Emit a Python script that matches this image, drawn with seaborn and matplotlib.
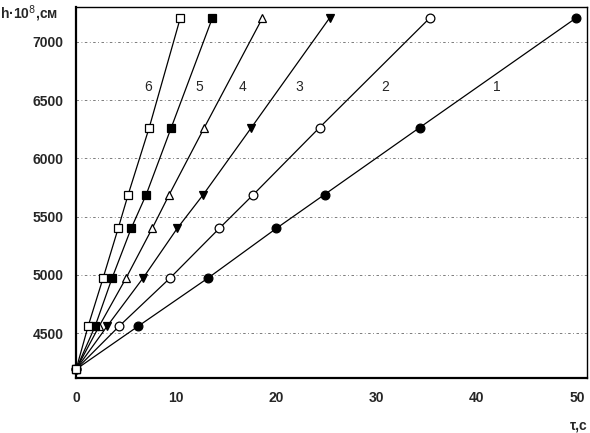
import pandas as pd
import matplotlib.pyplot as plt
import seaborn as sns

# уровни h (x10^8 см), общие для всех кривых
h = [4190, 4560, 4975, 5400, 5690, 6265, 7205]

# время tau, с для кривых 1..6
t1 = [0, 6.2, 13.2, 20.0, 24.8, 34.3, 49.9]
t2 = [0, 4.3, 9.4, 14.3, 17.7, 24.3, 35.3]
t3 = [0, 3.1, 6.7, 10.1, 12.7, 17.5, 25.3]
t4 = [0, 2.3, 5.0, 7.6, 9.3, 12.8, 18.6]
t5 = [0, 1.9, 3.6, 5.5, 7.0, 9.5, 13.6]
t6 = [0, 1.2, 2.7, 4.2, 5.2, 7.3, 10.4]

curve_names = ['1', '2', '3', '4', '5', '6']
label_x = [42.0, 30.9, 22.3, 16.6, 12.3, 7.2]
label_y = 6610

sns.set_style('white')
plt.rcParams['font.family'] = ['Liberation Sans', 'DejaVu Sans']

fig = plt.figure(figsize=(5.9, 4.33), dpi=100)
ax = fig.add_axes([0.129, 0.127, 0.866, 0.857])

# маркеры: (вид, заливка)
styles = [('o', 'black'), ('o', 'white'), ('v', 'black'),
          ('^', 'white'), ('s', 'black'), ('s', 'white')]

for t, name, (m, fc) in zip([t1, t2, t3, t4, t5, t6], curve_names, styles):
    df = pd.DataFrame({'tau': t, 'h': h})
    sns.lineplot(data=df, x='tau', y='h', ax=ax, color='black', lw=0.9,
                 marker=m, markersize=6.3, markerfacecolor=fc,
                 markeredgecolor='black', markeredgewidth=0.9,
                 clip_on=False, zorder=3)

for name, lx in zip(curve_names, label_x):
    ax.text(lx, label_y, name, fontsize=10, ha='center', va='center')

ax.set_xlim(0, 51)
ax.set_ylim(4115, 7300)
ax.set_xticks([0, 10, 20, 30, 40, 50])
ax.set_yticks([4500, 5000, 5500, 6000, 6500, 7000])
for yv in [4500, 5000, 5500, 6000, 6500, 7000]:
    ax.axhline(yv, color='#666666', lw=0.6, ls=(0, (3, 3, 1, 3)), zorder=1)

ax.tick_params(axis='both', direction='out', length=4, width=0.9, labelsize=10, pad=5)
for lab in ax.get_xticklabels() + ax.get_yticklabels():
    lab.set_fontweight('bold')
for s in ax.spines.values():
    s.set_color('black')
    s.set_linewidth(1.0)
ax.spines['left'].set_linewidth(1.6)
ax.spines['bottom'].set_linewidth(1.6)

ax.set_xlabel('')
ax.set_ylabel('')
fig.text(0.0, 0.968, 'h·10$^{8}$,см', fontsize=10, fontweight='bold', ha='left', va='center')
fig.text(0.995, 0.018, 'τ,с', fontsize=10, fontweight='bold', ha='right', va='center')

fig.savefig('out.png', dpi=100)
